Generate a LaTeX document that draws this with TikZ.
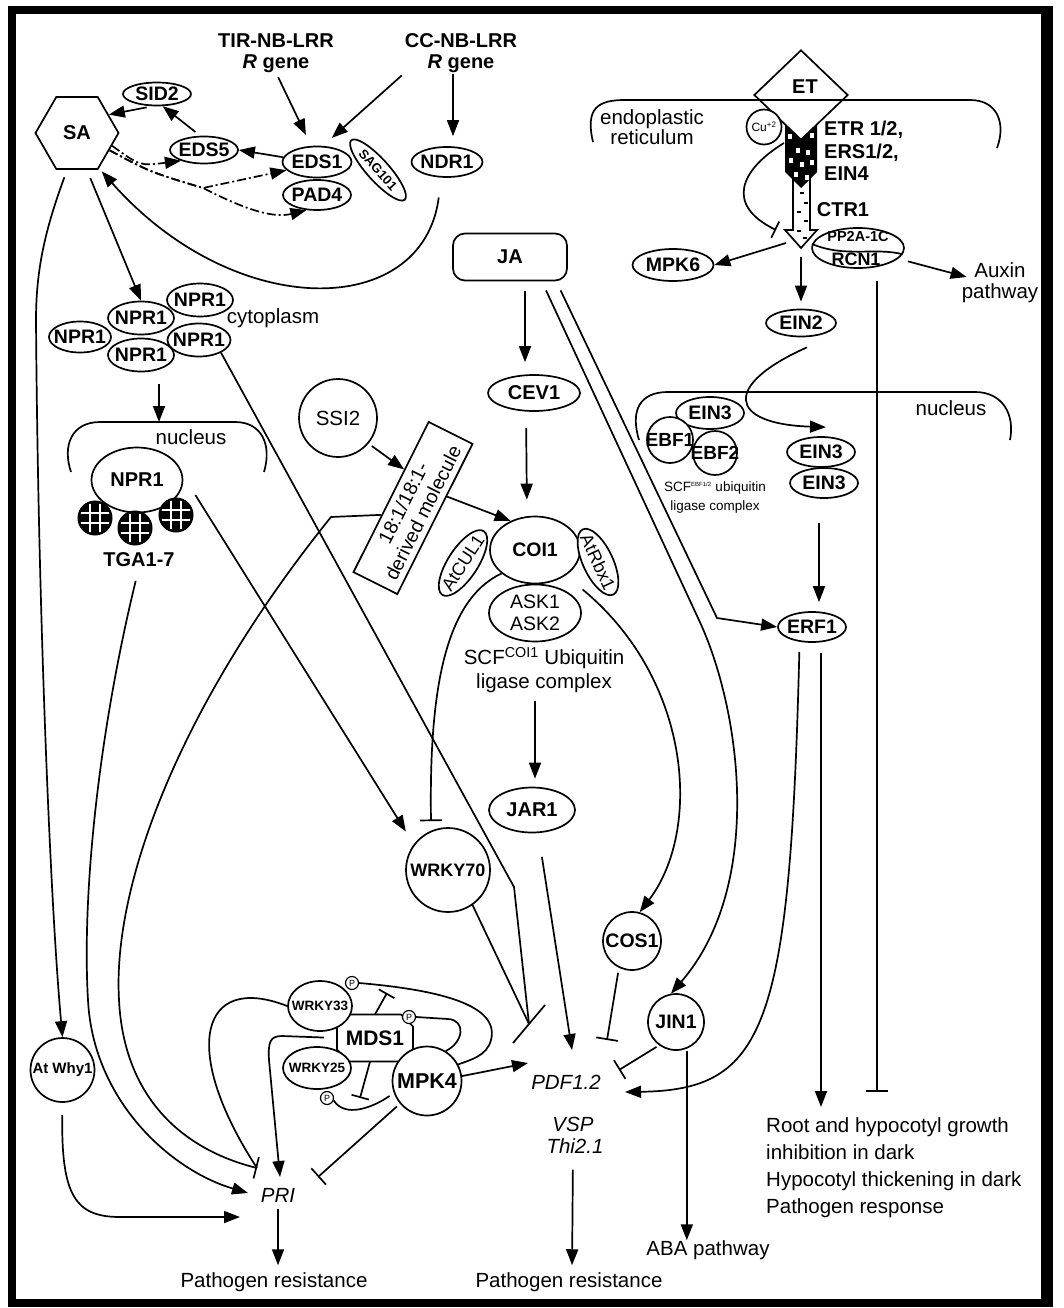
\documentclass[tikz,border=0pt]{standalone}
\usepackage{fontspec}
\setmainfont{Liberation Sans}
\usetikzlibrary{arrows.meta,shapes.geometric,shapes.misc,calc}
\newcommand\setfs[2]{\fontsize{#1}{#2}\selectfont}
\newcommand\nowidth[1]{\makebox[0pt]{#1}}
\begin{document}
\begin{tikzpicture}[x=1pt,y=-1pt,
  lw/.style={line width=1.7pt},
  arr/.style={lw,-{Triangle[length=16pt,width=12pt]}},
  inh/.style={lw,-{Bar[width=22pt]}},
  ddarr/.style={arr,dash pattern=on 9pt off 3pt on 2pt off 3pt},
  el/.style={draw,lw,ellipse,inner sep=0pt,fill=white,font=\bfseries\setfs{19.5}{23}},
  ci/.style={draw,lw,circle,inner sep=0pt,fill=white,font=\bfseries\setfs{19.5}{23}},
  txt/.style={inner sep=0pt,font=\setfs{20.5}{21},align=center},
  btxt/.style={inner sep=0pt,font=\bfseries\setfs{20}{21},align=center},
  itxt/.style={inner sep=0pt,font=\itshape\setfs{20.5}{24},align=center},
  pc/.style={draw,line width=1.2pt,circle,inner sep=0pt,fill=white,minimum size=13pt,font=\setfs{9}{10}},
]
\useasboundingbox (0,0) rectangle (1063,1308);
\fill[white] (0,0) rectangle (1063,1308);
% outer frame
\draw[line width=8pt] (11.5,10) rectangle (1046.5,1302.5);
\draw[line width=12pt] (1046.5,6) -- (1046.5,1306.5);

% ================= SA branch =================
\node[btxt] (tir) at (276,53) {TIR-NB-LRR\\\textit{R} gene};
\node[btxt] (cc) at (461,53) {CC-NB-LRR\\\textit{R} gene};
\node[regular polygon,regular polygon sides=6,draw,lw,minimum size=83pt,inner sep=0pt,font=\bfseries\setfs{20}{24}] (sa) at (77,133) {SA};
\node[el,minimum width=68pt,minimum height=23pt] (sid2) at (157,94) {\nowidth{SID2}};
\node[el,minimum width=68pt,minimum height=27pt] (eds5) at (204,150) {\nowidth{EDS5}};
\node[el,minimum width=69pt,minimum height=31pt] (eds1) at (317,162) {\nowidth{EDS1}};
\node[el,minimum width=68pt,minimum height=30pt] (pad4) at (317,195) {\nowidth{PAD4}};
\node[el,rotate=-48,minimum width=80pt,minimum height=22pt,font=\bfseries\setfs{13}{15}] (sag) at (378,170) {\nowidth{SAG101}};
\node[el,minimum width=71pt,minimum height=30pt] (ndr1) at (447,162) {\nowidth{NDR1}};
\node[draw,lw,rounded corners=12pt,minimum width=114pt,minimum height=47pt,font=\bfseries\setfs{20}{24}] (ja) at (510,257) {JA};

% NPR1 oligomer in the cytoplasm
\node[el,minimum width=66pt,minimum height=33pt] (n1) at (200,300) {\nowidth{NPR1}};
\node[el,minimum width=63pt,minimum height=33pt] (n4) at (199,340) {\nowidth{NPR1}};
\node[el,minimum width=62pt,minimum height=31pt] (n3) at (80,337) {\nowidth{NPR1}};
\node[el,minimum width=66pt,minimum height=33pt] (n2) at (141,318) {\nowidth{NPR1}};
\node[el,minimum width=66pt,minimum height=33pt] (n5) at (141,355) {\nowidth{NPR1}};
\node[txt] (cyto) at (273,318) {cytoplasm};

% nucleus (left)
\draw[lw] (71,472) .. controls (62,445) and (72,422) .. (100,422) -- (235,422) .. controls (262,422) and (272,445) .. (264,472);
\coordinate (nucL) at (159,422);
\node[txt] (nucl1) at (191,437) {nucleus};
\node[el,minimum width=91pt,minimum height=65pt,font=\bfseries\setfs{20}{24}] (npn) at (137,480) {\nowidth{NPR1}};
\node[circle,fill=black,minimum size=34pt,inner sep=0pt] (tga1) at (95,518) {};
\node[circle,fill=black,minimum size=34pt,inner sep=0pt] (tga2) at (135,528) {};
\node[circle,fill=black,minimum size=34pt,inner sep=0pt] (tga3) at (176,515) {};
\foreach \t in {tga1,tga2,tga3}{
  \begin{scope}
    \clip (\t.center) circle[radius=15pt];
    \draw[white,line width=2.2pt]
      ($(\t.center)+(-5,-20)$) -- ($(\t.center)+(-5,20)$)
      ($(\t.center)+(5,-20)$) -- ($(\t.center)+(5,20)$)
      ($(\t.center)+(-20,-5)$) -- ($(\t.center)+(20,-5)$)
      ($(\t.center)+(-20,5)$) -- ($(\t.center)+(20,5)$);
  \end{scope}
  \draw[line width=2pt] (\t.center) circle[radius=16.5pt];
}
\node[btxt] (tga) at (139,560) {TGA1-7};

% ================= JA branch =================
\node[ci,minimum size=78pt,font=\setfs{20.5}{24}] (ssi2) at (338,418) {SSI2};
\node[draw,lw,fill=white,rotate=63.4,minimum width=168pt,minimum height=49pt,inner sep=0pt,align=center,font=\setfs{19.5}{22}] (mol) at (413,508) {18:1/18:1-\\derived molecule};
\node[el,minimum width=92pt,minimum height=36pt,font=\bfseries\setfs{20}{24}] (cev1) at (534,393) {\nowidth{CEV1}};
\node[el,minimum width=92pt,minimum height=57pt] (ask) at (535,613) {};
\node[txt,font=\setfs{19.5}{22}] (asktxt) at (ask.center) {ASK1\\ASK2};
\node[el,minimum width=90pt,minimum height=67pt] (coi1) at (535,550) {\nowidth{COI1}};
\node[el,rotate=57,minimum width=76pt,minimum height=30pt,font=\setfs{18}{20}] (atcul) at (463,563) {\nowidth{AtCUL1}};
\node[el,rotate=-65,minimum width=72pt,minimum height=30pt,font=\setfs{18}{20}] (atrbx) at (598,562) {\nowidth{AtRbx1}};
\node[txt] (scf1) at (544,658) {SCF\textsuperscript{COI1} Ubiquitin};
\node[txt] (scf2) at (544,683) {ligase complex};
\node[el,minimum width=86pt,minimum height=45pt,font=\bfseries\setfs{20}{24}] (jar1) at (532,810) {\nowidth{JAR1}};
\node[ci,minimum size=84pt,font=\bfseries\setfs{18}{20}] (wrky70) at (448,870) {\nowidth{WRKY70}};
\node[ci,minimum size=58pt] (cos1) at (632,941) {\nowidth{COS1}};
\node[ci,minimum size=56pt] (jin1) at (676,1022) {\nowidth{JIN1}};

% ================= ET branch =================
\draw[lw] (593,142) .. controls (585,108) and (598,100) .. (625,100) -- (970,100) .. controls (998,100) and (1006,124) .. (997,148);
\node[txt,font=\setfs{20.5}{20}] (er) at (652,127) {endoplastic\\reticulum};
\node[diamond,draw,lw,minimum width=94pt,minimum height=90pt,inner sep=0pt] (et) at (801,95) {};
\node[btxt] (ettxt) at (805,87) {ET};
\node[ci,minimum size=35pt,font=\setfs{12}{13}] (cu) at (764,127) {\nowidth{Cu\textsuperscript{+2}}};
% CTR1 block arrow
\draw[lw,fill=white] (793,178) -- (810,178) -- (810,230) -- (817,230) -- (801,248) -- (785,230) -- (793,230) -- cycle;
\foreach \p in {(800,193),(804,203),(797,212),(804,221),(797,231),(803,238)}
  \draw[line width=1.2pt] \p -- ++(4,0);
% ethylene receptors
\fill (785,125) -- (801,140) -- (817,125) -- (817,172) -- (801,188) -- (785,172) -- cycle;
\foreach \p in {(788,134),(810,133),(796,148),(806,150),(789,158),(800,162),(810,160),(794,172),(805,175)}
  \fill[white] \p rectangle ++(4,5);
\coordinate (recL) at (784,143);
\coordinate (ctr) at (801,248);
\node[btxt,align=left,anchor=west,font=\bfseries\setfs{20}{22.5}] (etr) at (824,151) {ETR 1/2,\\ERS1/2,\\EIN4};
\node[btxt] (ctr1) at (843,210) {CTR1};
\node[el,minimum width=92pt,minimum height=40pt] (pp2a) at (858,248) {};
\draw[lw] (pp2a.175) .. controls (845,258) and (875,247) .. (pp2a.-8);
\node[inner sep=0pt,font=\bfseries\setfs{14.5}{16}] (pptxt) at (858,237) {PP2A-1C};
\node[inner sep=0pt,font=\bfseries\setfs{18}{20}] (rcntxt) at (856,259) {RCN1};
\node[el,minimum width=81pt,minimum height=32pt] (mpk6) at (673,265) {\nowidth{MPK6}};
\node[el,minimum width=70pt,minimum height=27pt] (ein2) at (801,323) {\nowidth{EIN2}};
\node[txt] (aux) at (1000,283) {Auxin\\pathway};
% nucleus (right)
\draw[lw] (639,440) .. controls (630,410) and (640,392) .. (668,392) -- (975,392) .. controls (1003,392) and (1015,415) .. (1010,440);
\node[txt] (nucl2) at (951,408) {nucleus};
\node[el,minimum width=68pt,minimum height=32pt] (ein3a) at (710,413) {\nowidth{EIN3}};
\node[ci,minimum size=46pt,font=\bfseries\setfs{19}{22}] (ebf1) at (670,440) {\nowidth{EBF1}};
\node[ci,minimum size=44pt,font=\bfseries\setfs{19}{22}] (ebf2) at (715,453) {\nowidth{EBF2}};
\node[txt,font=\setfs{13.5}{15}] (scfe1) at (715,488) {SCF\textsuperscript{\setfs{6}{7}EBF1/2} ubiquitin};
\node[txt,font=\setfs{13.5}{15}] (scfe2) at (715,507) {ligase complex};
\node[el,minimum width=68pt,minimum height=30pt] (ein3b) at (821,452) {\nowidth{EIN3}};
\node[el,minimum width=68pt,minimum height=30pt] (ein3c) at (824,483) {\nowidth{EIN3}};
\node[el,minimum width=68pt,minimum height=30pt] (erf1) at (812,627) {\nowidth{ERF1}};
\node[txt,align=left,anchor=north west,font=\setfs{20.5}{27}] (root) at (766,1117) {Root and hypocotyl growth\\inhibition in dark\\Hypocotyl thickening in dark\\Pathogen response};

% ================= lower part =================
\node[ci,minimum size=64pt,font=\bfseries\setfs{15}{17}] (why1) at (62.5,1070) {\nowidth{At Why1}};
\draw[lw,fill=white] (349,1014.5) -- (401,1014.5) -- (413,1026.5) -- (413,1049.5) -- (401,1061.5) -- (349,1061.5) -- (337,1049.5) -- (337,1026.5) -- cycle;
\node[minimum width=76pt,minimum height=47pt,inner sep=0pt,font=\bfseries\setfs{21}{24}] (mds1) at (375,1038) {MDS1};
\node[el,minimum width=64pt,minimum height=50pt,font=\bfseries\setfs{13.5}{15}] (wrky33) at (320,1006) {\nowidth{WRKY33}};
\node[el,minimum width=68pt,minimum height=42pt,font=\bfseries\setfs{13.5}{15}] (wrky25) at (317,1068) {\nowidth{WRKY25}};
\node[ci,minimum size=69pt,font=\bfseries\setfs{21.5}{24}] (mpk4) at (427,1081) {\nowidth{MPK4}};
\node[pc] (p33) at (352,983) {P};
\node[pc] (pmds) at (409,1017) {P};
\node[pc] (p25) at (327,1098) {P};
\node[itxt] (pri) at (278,1195) {PRI};
\node[txt] (path1) at (274,1282) {Pathogen resistance};
\node[itxt] (pdf) at (566,1082) {PDF1.2};
\node[itxt] (vsp) at (573,1124) {VSP};
\node[itxt] (thi) at (575,1146) {Thi2.1};
\node[txt] (path2) at (569,1282) {Pathogen resistance};
\node[txt] (aba) at (708,1250) {ABA pathway};

% target points around the marker genes
\coordinate (pdfA) at (529,1024);
\coordinate (barA1) at (513,1043);
\coordinate (barA2) at (545,1005);
\coordinate (pdfB) at (572,1050);
\coordinate (pdfC) at (607,1040);
\coordinate (pdfD) at (619,1070);
\coordinate (pdfE) at (625,1092);
\coordinate (pdfF) at (528,1063);
\coordinate (priA) at (257,1168);
\coordinate (priB) at (248,1193);
\coordinate (priC) at (240,1217);
\coordinate (priD) at (280,1177);
\coordinate (priE) at (318,1177);
\coordinate (barUp) at (387,993);
\coordinate (barDn) at (360,1098);
\coordinate (rootTip) at (821,1107);
\coordinate (rcnBar) at (877,1092);
\coordinate (dj) at (203,188);

% ================= connectors: SA branch =================
\draw[arr,shorten <=5pt,shorten >=12pt] (tir.south) -- (eds1.110);
\draw[arr,shorten <=4pt,shorten >=12pt] (cc.south west) -- (eds1.70);
\draw[arr] ($(ndr1.north)+(6,-72)$) -- ($(ndr1.north)+(6,-10)$);
\draw[arr] (eds1.172) -- (eds5.east);
\draw[arr,shorten <=6pt] (eds5.105) -- (sid2.-65);
\draw[arr,shorten <=6pt] (sid2.-110) -- (sa.30);
\draw[ddarr] (sa.-20) .. controls (140,166) .. (eds5.205);
\draw[ddarr] (sa.-28) .. controls (150,172) .. (dj) -- (eds1.195);
\draw[ddarr] (sa.-28) .. controls (150,172) .. (dj) .. controls (250,212) and (275,218) .. (pad4.235);
\draw[arr,shorten <=20pt,shorten >=4pt] (ndr1.-110) .. controls (423,320) and (235,322) .. (sa.-58);
\draw[arr,shorten <=9pt] (sa.-75) -- (n2.north);
\draw[arr,shorten <=8pt] (sa.-105) .. controls (45,230) and (36,270) .. (36,320) .. controls (38,600) and (50,900) .. (why1.north);
\draw[arr,shorten <=12pt] (n5.south -| nucL) -- (nucL);
\draw[arr,shorten >=15pt] ($(npn.east)+(12,15)$) -- (wrky70.143);
\draw[arr,shorten <=14pt] (tga.south) .. controls (97,740) and (82,900) .. (88,1000) .. controls (93,1100) and (170,1170) .. (priB);
\draw[lw] (n4.-30) -- (514,887) -- (pdfA);
\draw[lw] (wrky70.-55) -- (pdfA);
\draw[lw] (barA1) -- (barA2);

% ================= connectors: JA branch =================
\draw[arr,shorten <=4pt] (ssi2.-40) -- ($(mol.north east)!0.32!(mol.north west)$);
\draw[arr] ($(mol.south)!0.3!(mol.south east)$) -- (coi1.130);
\draw[inh] ($(mol.north east)!0.62!(mol.north west)$) -- (331,517) .. controls (185,698) and (112,880) .. (119,1000) .. controls (124,1100) and (185,1150) .. (priA);
\draw[arr,shorten <=10pt,shorten >=12pt] ($(ja.south)+(15,0)$) -- ($(cev1.north)+(-9,0)$);
\draw[arr,shorten <=16pt,shorten >=16pt] ($(cev1.south)+(-8,0)$) -- ($(coi1.north)+(-8,0)$);
\draw[inh] (coi1.-145) .. controls (445,600) and (429,690) .. ($(wrky70.north)+(-17,-6)$);
\draw[arr] ($(ask.25)+(10,-6)$) .. controls (692,680) and (702,830) .. (cos1.75);
\draw[arr] ($(scf2.south)+(-9,8)$) -- ($(jar1.north)+(3,-8)$);
\draw[arr,shorten <=24pt] (jar1.-75) -- (pdfB);
\draw[inh,shorten <=5pt] (cos1.-116) -- (pdfC);
\draw[inh,shorten <=3pt] (jin1.-126) -- (pdfD);
\draw[arr,shorten <=10pt] ($(ja.south)!0.8!(ja.south east)$) -- (717,618) -- (erf1.west);
\draw[arr,shorten <=10pt] ($(ja.south)!0.55!(ja.south east)$) -- (698,618) .. controls (741,708) and (765,885) .. (jin1.100);
\draw[arr,shorten <=2pt] (jin1.-68) -- (jin1.-68 |- aba.north);
\draw[arr,shorten <=16pt,shorten >=7pt] ($(thi.south)+(-2,0)$) -- ($(path2.north)+(3,0)$);
\draw[arr,shorten <=7pt,shorten >=7pt] (pri.south) -- (pri.south |- path1.north);

% ================= connectors: ET branch =================
\draw[inh,-{Bar[width=18pt]}] (recL) .. controls (740,170) and (725,205) .. (776,230);
\draw[arr] ($(ctr)+(-15,-5)$) -- (mpk6.east);
\draw[arr,shorten >=7pt] ($(ctr)+(0,9)$) -- (ein2.north);
\draw[arr,shorten <=10pt] (pp2a.-15) -- ($(aux.west)+(5,-6)$);
\draw[inh,shorten <=12pt] ($(pp2a.south)+(19,0)$) -- (rcnBar);
\draw[arr] ($(ein2.south)+(6,10)$) .. controls (722,385) and (728,424) .. ($(ein3b.north)+(5,-9)$);
\draw[arr,shorten <=24pt,shorten >=9pt] ($(ein3c.south)+(-5,0)$) -- ($(erf1.north)+(7,0)$);
\draw[arr,shorten <=10pt] ($(erf1.south)+(9,0)$) -- (rootTip);
\draw[arr,shorten <=10pt] (erf1.-130) .. controls (790,1030) and (765,1090) .. (pdfE);

% ================= connectors: MPK4 / MDS1 module =================
\draw[lw] (wrky33.west) .. controls (200,972) and (180,1050) .. (priA);
\draw[arr,shorten <=13pt] (mds1.west) -- (282,1036) .. controls (270,1036) and (268,1042) .. (269,1060) -- (priD);
\draw[inh,shorten <=4pt] (mpk4.-140) -- (priE);
\draw[arr,shorten <=12pt] (why1.south) .. controls (61,1195) and (75,1217) .. (120,1217) -- (priC);
\draw[lw] (p33.east) .. controls (440,990) and (500,1005) .. (491,1040) .. controls (487,1056) and (470,1060) .. (mpk4.28);
\draw[lw] (pmds.east) -- (448,1019) .. controls (466,1020) and (464,1042) .. (mpk4.58);
\draw[inh,-{Bar[width=18pt]}] (mds1.north) -- (barUp);
\draw[inh,-{Bar[width=18pt]}] ($(mds1.south)+(-5,0)$) -- (barDn);
\draw[lw,shorten >=5pt] (p25.-20) .. controls (345,1118) and (372,1108) .. (mpk4.-160);
\draw[arr] (mpk4.8) -- (pdfF);
\end{tikzpicture}
\end{document}
